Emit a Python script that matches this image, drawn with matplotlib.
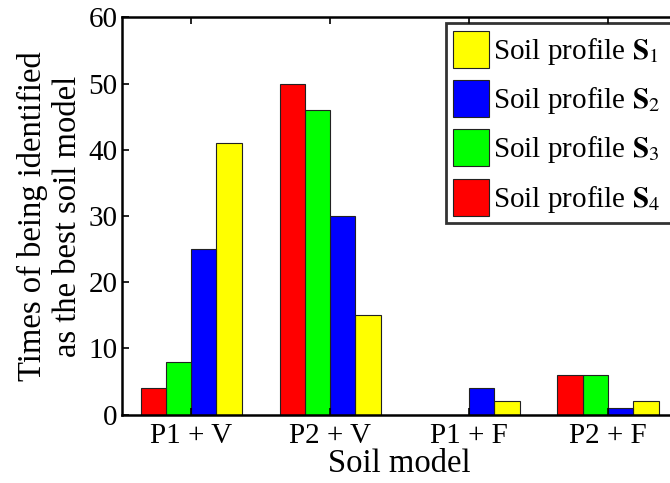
import numpy as np
import matplotlib
matplotlib.use("Agg")
import matplotlib.pyplot as plt

plt.rcParams['font.family'] = ['Liberation Serif', 'DejaVu Serif']
plt.rcParams['mathtext.fontset'] = 'stix'

models = ["P1 + V", "P2 + V", "P1 + F", "P2 + F"]
# Soil profiles, in legend order
profiles = [r"Soil profile $\mathbf{S}_{\mathrm{1}}$",
            r"Soil profile $\mathbf{S}_{\mathrm{2}}$",
            r"Soil profile $\mathbf{S}_{\mathrm{3}}$",
            r"Soil profile $\mathbf{S}_{\mathrm{4}}$"]
s1 = [41, 15, 2, 2]
s2 = [25, 30, 4, 1]
s3 = [8, 46, 0, 6]
s4 = [4, 50, 0, 6]
colors = ["#ffff00", "#0000ff", "#00ff00", "#ff0000"]

fig = plt.figure(figsize=(6.7, 4.83), dpi=100)
ax = fig.add_axes([0.1816, 0.1418, 0.8296, 0.822])

x = np.arange(1, len(models) + 1)
group_w = 4 / 5.5
bw = group_w / 4
# bars drawn left to right as S4, S3, S2, S1
series = [s1, s2, s3, s4]
handles = []
for k, (vals, c) in enumerate(zip(series, colors)):
    slot = 3 - k
    off = -group_w / 2 + bw * (slot + 0.5)
    h = ax.bar(x + off, vals, bw, color=c, edgecolor='#222222', linewidth=0.8)
    handles.append(h)

ax.set_xlim(0.5, 4.5)
ax.set_ylim(0, 60)
ax.set_xticks(x)
ax.set_xticklabels(models)
ax.set_yticks(np.arange(0, 61, 10))
ax.tick_params(direction='in', length=5, width=1.2, labelsize=21, top=True, right=True)
ax.tick_params(axis='x', pad=6)
ax.tick_params(axis='y', pad=3)
for sp in ax.spines.values():
    sp.set_linewidth(1.8)

ax.set_xlabel("Soil model", fontsize=23.5, labelpad=0)
ax.set_ylabel("Times of being identified\nas the best soil model", fontsize=23.5,
              linespacing=1.2, labelpad=4)

# legend box runs past the right edge of the picture, as in the original crop
leg_left = 445.7 / 670
leg_top = 1 - 23.3 / 483
leg = ax.legend(handles, profiles, loc='upper left',
                bbox_to_anchor=(leg_left, leg_top, (700 - 445.7) / 670, 0),
                bbox_transform=fig.transFigure, mode='expand', fontsize=21,
                frameon=True, fancybox=False,
                handlelength=1.23, handleheight=1.58, labelspacing=0.42, handletextpad=0.15,
                borderpad=0.25, borderaxespad=0)
leg.get_frame().set_edgecolor('black')
leg.get_frame().set_linewidth(2)

fig.savefig("out.png", dpi=100)
